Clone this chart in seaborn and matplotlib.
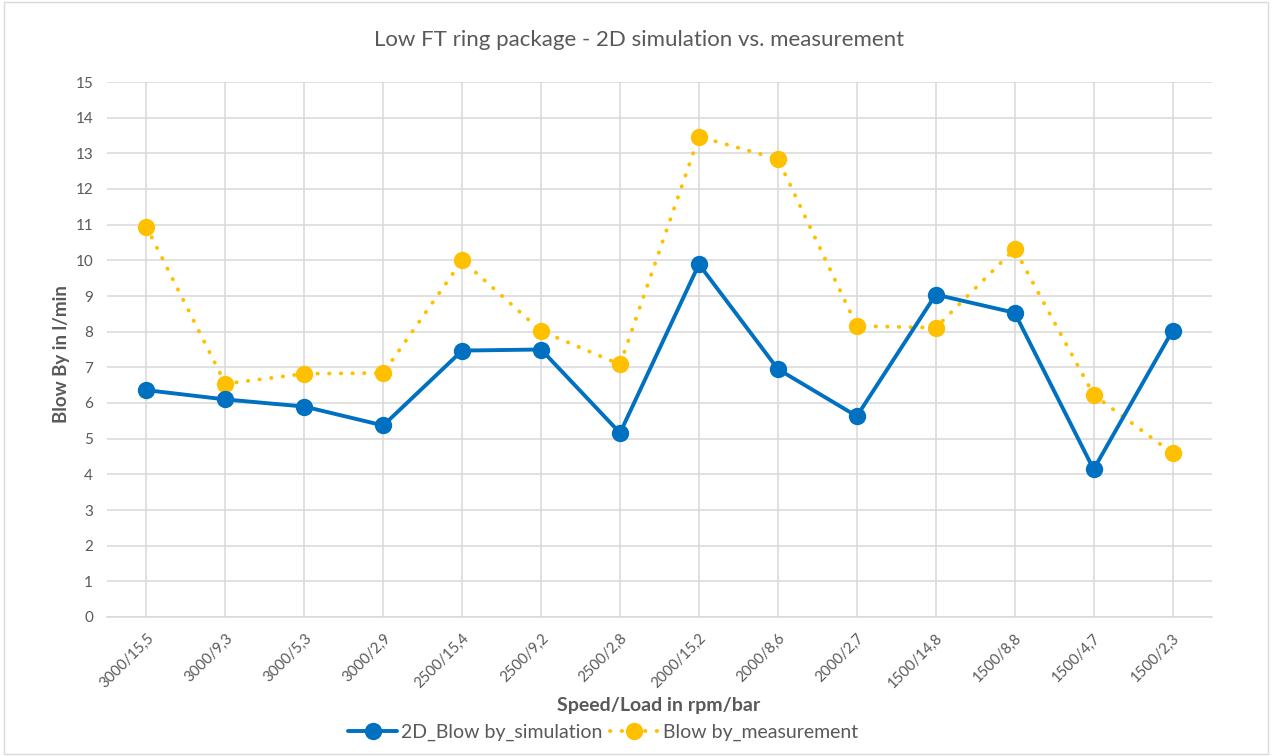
import matplotlib
matplotlib.use("Agg")
import matplotlib.pyplot as plt
import matplotlib.patches as mpatches
import seaborn as sns
import pandas as pd

# Operating points (speed in rpm / load in bar)
operating_points = [
    "3000/15,5", "3000/9,3", "3000/5,3", "3000/2,9",
    "2500/15,4", "2500/9,2", "2500/2,8",
    "2000/15,2", "2000/8,6", "2000/2,7",
    "1500/14,8", "1500/8,8", "1500/4,7", "1500/2,3",
]

# Blow-by in l/min
blowby_simulation = [6.36, 6.10, 5.90, 5.37, 7.47, 7.50, 5.16,
                     9.89, 6.95, 5.63, 9.04, 8.53, 4.14, 8.03]
blowby_measurement = [10.94, 6.54, 6.82, 6.84, 10.00, 8.02, 7.08,
                      13.47, 12.84, 8.16, 8.11, 10.32, 6.23, 4.59]

series_names = ["2D_Blow by_simulation", "Blow by_measurement"]

df = pd.DataFrame({
    "point": operating_points * 2,
    "pos": list(range(len(operating_points))) * 2,
    "value": blowby_simulation + blowby_measurement,
    "series": [series_names[0]] * len(operating_points)
              + [series_names[1]] * len(operating_points),
})

sns.set_theme(style="white")
plt.rcParams["font.family"] = ["Lato", "DejaVu Sans"]

TEXT = "#595959"
GRID = "#d9d9d9"
BLUE = "#0070C0"
GOLD = "#FFC000"

W, H = 1274, 756
fig = plt.figure(figsize=(W / 100, H / 100), dpi=100)
ax = fig.add_axes([107 / W, 1 - 617 / H, (1212 - 107) / W, (617 - 82) / H])

sim = df[df["series"] == series_names[0]]
meas = df[df["series"] == series_names[1]]

sns.lineplot(data=sim, x="pos", y="value", ax=ax, color=BLUE, lw=2.8,
             marker="o", markersize=12.5, markeredgewidth=0,
             label=series_names[0], zorder=4)
sns.lineplot(data=meas, x="pos", y="value", ax=ax, color=GOLD, lw=2.8,
             linestyle=(0, (0.1, 2.9)), dash_capstyle="round",
             marker="o", markersize=12.5, markeredgewidth=0,
             label=series_names[1], zorder=3)

ax.set_xlim(-0.5, len(operating_points) - 0.5)
ax.set_ylim(0, 15)
ax.set_yticks(range(0, 16))
ax.set_xticks(range(len(operating_points)))
ax.set_xticklabels(operating_points, rotation=45, ha="right",
                   rotation_mode="anchor", fontsize=10.7, color=TEXT)
ax.tick_params(axis="y", length=0, pad=10, labelsize=11, labelcolor=TEXT)
ax.tick_params(axis="x", length=6, width=1.1, color=GRID, pad=4)

ax.grid(True, color=GRID, lw=1.1)
ax.set_axisbelow(True)
for side in ["top", "right", "left"]:
    ax.spines[side].set_visible(False)
ax.spines["bottom"].set_color(GRID)
ax.spines["bottom"].set_linewidth(1.1)

ax.set_ylabel("")
ax.set_xlabel("")
fig.text(61 / W, 1 - 354 / H, "Blow By in l/min", rotation=90,
         ha="center", va="center", fontsize=13.5, fontweight="bold", color=TEXT)
fig.text(659 / W, 1 - 705 / H, "Speed/Load in rpm/bar",
         ha="center", va="center", fontsize=14, fontweight="bold", color=TEXT)

fig.text(639.5 / W, 1 - 40 / H,
         "Low FT ring package - 2D simulation vs. measurement",
         ha="center", va="center", fontsize=16, color=TEXT)

ax.legend(loc="center", bbox_to_anchor=(603 / W, 1 - 732 / H),
          bbox_transform=fig.transFigure, ncol=2, frameon=False,
          fontsize=14, labelcolor=TEXT, handlelength=2.5,
          columnspacing=0.4, handletextpad=0.2)

# light frame around the whole chart area
fig.patches.append(mpatches.Rectangle((4 / W, 2 / H), 1264 / W, 752 / H,
                                      transform=fig.transFigure, fill=False,
                                      edgecolor=GRID, lw=1.0))

fig.savefig("out.png", dpi=100, facecolor="white")
